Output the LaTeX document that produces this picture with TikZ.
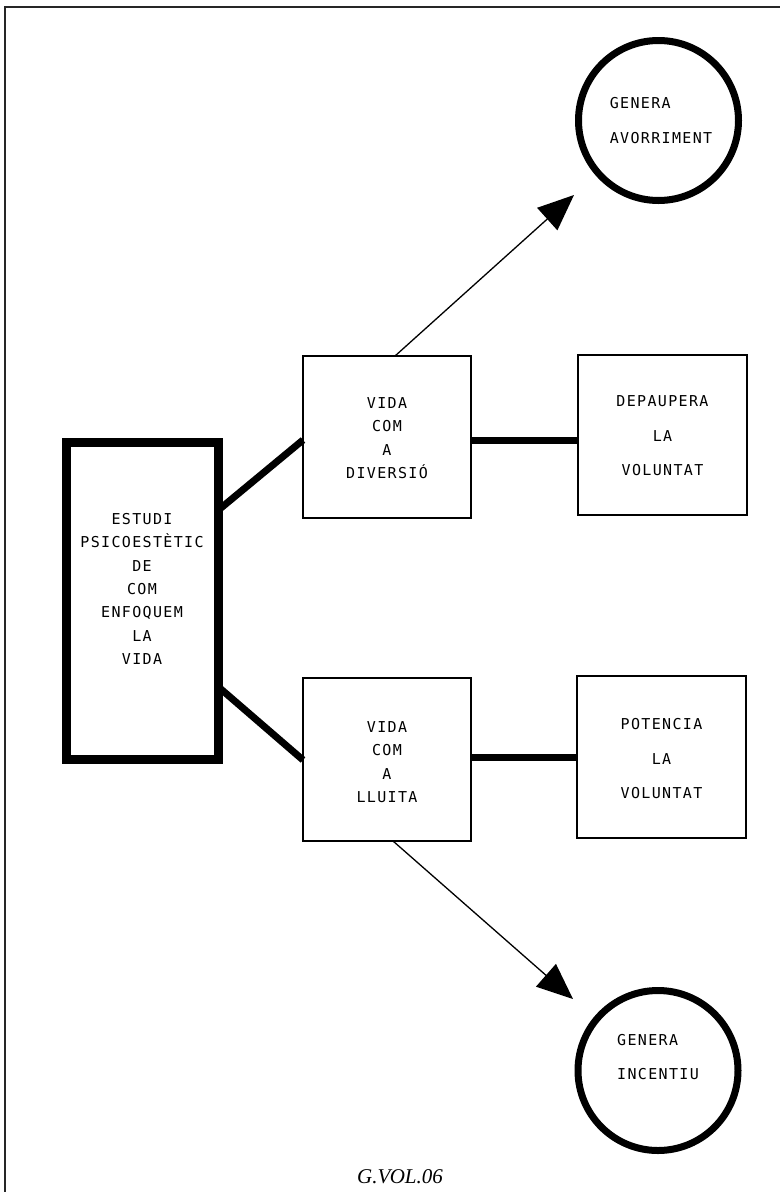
\documentclass[tikz,border=0pt]{standalone}
\usepackage{fontspec}
\setmainfont{Liberation Serif}
\newfontfamily\twfont[LetterSpace=9]{DejaVu Sans Mono}
\usetikzlibrary{arrows.meta}
\tikzset{
  boxtext/.style={font=\fontsize{15}{23.3}\twfont, align=center, inner sep=0pt},
  widetext/.style={font=\fontsize{15}{34.5}\twfont, align=center, inner sep=0pt},
  circtext/.style={font=\fontsize{15}{34.5}\twfont, align=left, inner sep=0pt},
  bigbox/.style={draw, line width=9pt, rectangle, inner sep=0pt, outer sep=0pt},
  thinbox/.style={draw, line width=1.5pt, rectangle, inner sep=0pt, outer sep=0pt},
  endcircle/.style={draw, line width=7pt, circle, inner sep=0pt, outer sep=0pt, minimum size=160pt},
  thickline/.style={line width=7pt},
  arrowline/.style={line width=1.3pt, -{Triangle[length=36pt,width=30pt]}},
  frameline/.style={line width=2pt, draw=black!85}
}
\begin{document}
\begin{tikzpicture}[x=1pt,y=-1pt]
\useasboundingbox (0,0) rectangle (780,1192);
% frame
\draw[frameline] (5,1192) -- (5,7) -- (780,7);
% boxes
\node[bigbox, minimum width=152pt, minimum height=316.5pt] (big) at (142.5,600.75) {};
\node[boxtext] (bigt) at (142,589) {ESTUDI\\PSICOESTÈTIC\\DE\\COM\\ENFOQUEM\\LA\\VIDA};
\node[thinbox, minimum width=168pt, minimum height=162pt] (mid1) at (387,437) {};
\node[boxtext] (mid1t) at (387,438) {VIDA\\COM\\A\\DIVERSIÓ};
\node[thinbox, minimum width=168pt, minimum height=163pt] (mid2) at (387,759.5) {};
\node[boxtext] (mid2t) at (387,762) {VIDA\\COM\\A\\LLUITA};
\node[thinbox, minimum width=169pt, minimum height=160pt] (right1) at (662.5,435) {};
\node[widetext] (right1t) at (662.5,436) {DEPAUPERA\\LA\\VOLUNTAT};
\node[thinbox, minimum width=169pt, minimum height=162pt] (right2) at (661.5,757) {};
\node[widetext] (right2t) at (661.5,759) {POTENCIA\\LA\\VOLUNTAT};
% circles
\node[endcircle] (c1) at (658.5,120.5) {};
\node[circtext] (c1t) at (661,120.5) {GENERA\\AVORRIMENT};
\node[endcircle] (c2) at (658,1070.5) {};
\node[circtext] (c2t) at (658,1057) {GENERA\\INCENTIU};
% thick connectors
\draw[thickline] (big.east |- 0,510) -- (mid1.west |- 0,440);
\draw[thickline] (big.east |- 0,687) -- (mid2.west |- 0,760);
\draw[thickline] (mid1.east |- 0,440) -- (right1.west |- 0,440);
\draw[thickline] (mid2.east |- 0,757) -- (right2.west |- 0,757);
% arrows
\coordinate (t1) at (574,195);
\coordinate (t2) at (573,999);
\draw[arrowline] (mid1.north -| 395,0) -- (t1);
\draw[arrowline] (mid2.south -| 393,0) -- (t2);
% caption
\node[font=\fontsize{21}{25}\selectfont\itshape, inner sep=0pt] (cap) at (400,1177) {G.VOL.06};
\end{tikzpicture}
\end{document}
